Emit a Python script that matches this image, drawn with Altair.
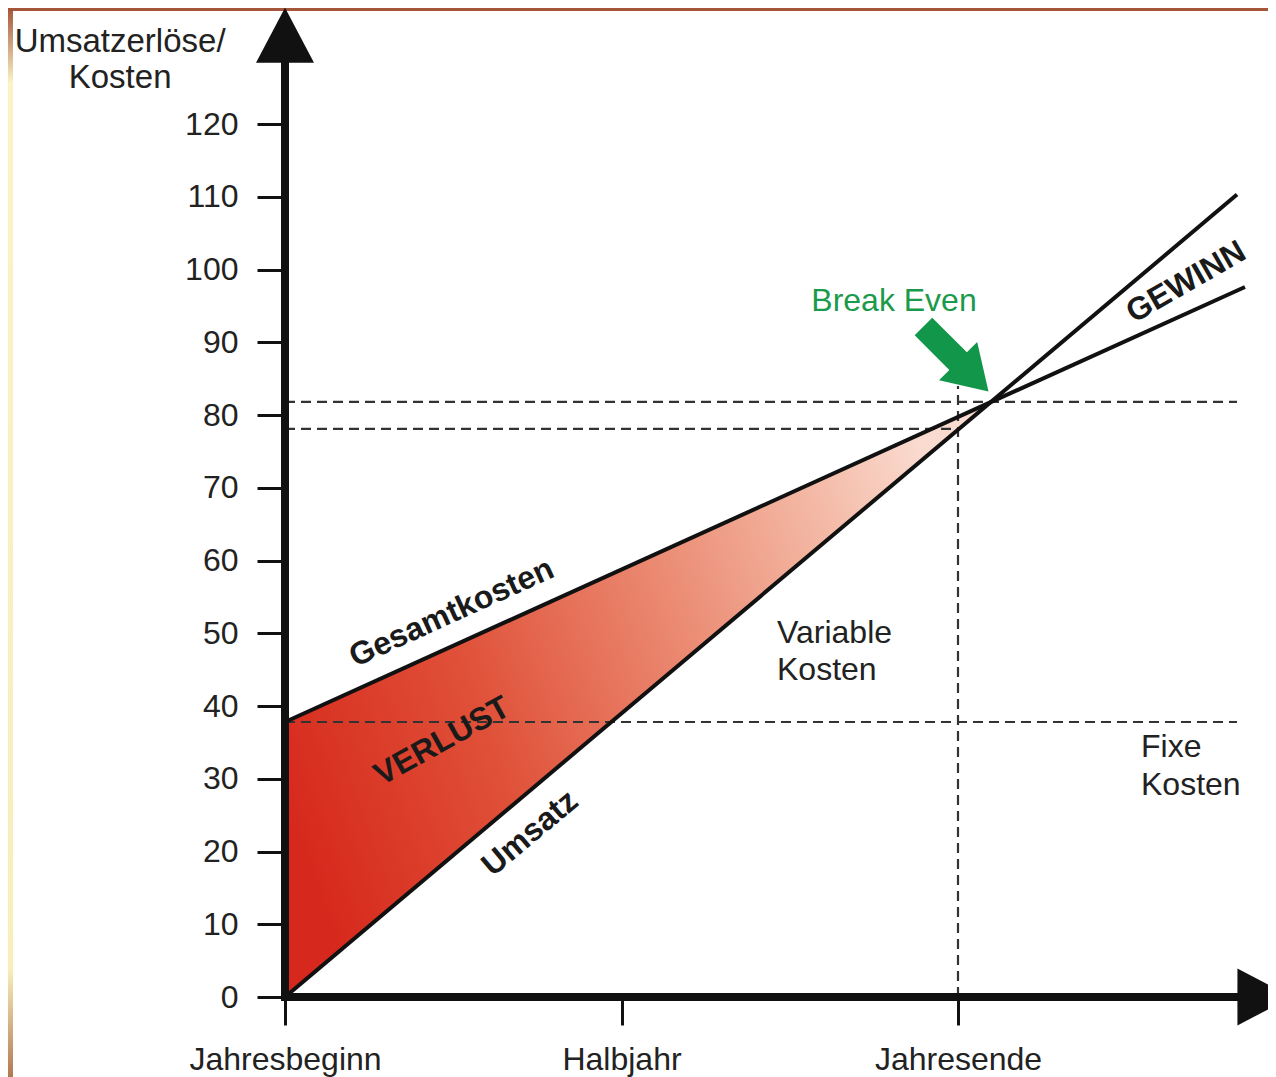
import altair as alt
import pandas as pd

FONT = "Liberation Sans"
INK = "#1a1a1a"

# ---------------- values ----------------
x_tick_values = [0.0, 0.5, 1.0]
x_tick_labels = ["Jahresbeginn", "Halbjahr", "Jahresende"]
y_tick_values = [0, 10, 20, 30, 40, 50, 60, 70, 80, 90, 100, 110, 120]

# Umsatz (revenue) line
umsatz_x = [0.0, 1.4146]
umsatz_y = [0.0, 110.3]
# Gesamtkosten (total cost) line
kosten_x = [0.0, 1.4264]
kosten_y = [37.8, 97.6]

# loss area between the two lines, up to the break-even point
verlust_x = [0.0, 1.0485]
verlust_umsatz = [0.0, 81.75]
verlust_kosten = [37.8, 81.75]

# dashed guide lines
guide_x1 = [0.0, 0.0, 0.0, 1.0]
guide_x2 = [1.4146, 1.0, 1.4146, 1.0]
guide_y1 = [81.8, 78.1, 37.8, 0.0]
guide_y2 = [81.8, 78.1, 37.8, 84.0]

# axis arrows (shafts and heads)
axis_x1 = [0.0, 0.0]
axis_x2 = [0.0, 1.4146]
axis_y1 = [0.0, 0.0]
axis_y2 = [128.5, 0.0]
head_up_x = [0.0]
head_up_y = [132.2]
head_right_x = [1.4554]
head_right_y = [0.0]

# break-even marker
be_arrow_x = [0.997]
be_arrow_y = [87.7]
be_text = ["Break Even"]
be_text_x = [0.9049]
be_text_y = [94.3]

# bold rotated labels
bold_text = ["Gesamtkosten", "VERLUST", "Umsatz", "GEWINN"]
bold_x = [0.2474, 0.2333, 0.3640, 1.3388]
bold_y = [52.85, 35.19, 22.54, 98.28]
bold_angle = [335.6, 331.0, 320.0, 330.0]

# plain labels
title_text = ["Umsatzerlöse/", "Kosten"]
title_x = [-0.2450, -0.2450]
title_y = [129.9, 124.95]
note_text = ["Variable", "Kosten", "Fixe", "Kosten"]
note_x = [0.7311, 0.7311, 1.2719, 1.2719]
note_y = [48.66, 43.57, 32.99, 27.77]

# ---------------- layout ----------------
PX_PER_X = 673.0
PX_PER_Y = 7.275
PLOT_W = 983
PLOT_H = 989
PAD_BOTTOM = 80
X_MAX = PLOT_W / PX_PER_X
Y_MAX = PLOT_H / PX_PER_Y

xscale = alt.Scale(domain=[0, X_MAX], nice=False, zero=False)
yscale = alt.Scale(domain=[0, Y_MAX], nice=False, zero=False)

label_expr = "''"
for v, l in reversed(list(zip(x_tick_values, x_tick_labels))):
    label_expr = f"datum.value == {v} ? '{l}' : ({label_expr})"

xaxis = alt.Axis(
    values=x_tick_values, labelExpr=label_expr, title=None, domain=False, grid=False,
    ticks=True, tickSize=28, tickWidth=3, tickColor="#111111",
    labelFont=FONT, labelFontSize=32, labelColor="#222222", labelPadding=19,
    labelOverlap=False, labelFlush=False, labelAngle=0, labelLimit=0,
)
yaxis = alt.Axis(
    values=y_tick_values, title=None, domain=False, grid=False,
    ticks=True, tickSize=28, tickWidth=3, tickColor="#111111",
    labelFont=FONT, labelFontSize=32, labelColor="#222222", labelPadding=19,
    labelOverlap=False, labelFlush=False, labelLimit=0,
)


def xenc(f):
    return alt.X(f"{f}:Q", scale=xscale, axis=xaxis)


def yenc(f):
    return alt.Y(f"{f}:Q", scale=yscale, axis=yaxis)


one = pd.DataFrame({"a": [0]})

# frame decoration
left_strip = alt.Chart(one).mark_rect(
    fill={"gradient": "linear", "x1": 0, "y1": 0, "x2": 0, "y2": 1,
          "stops": [{"offset": 0, "color": "#a5553a"},
                    {"offset": 0.07, "color": "#fbf3c4"},
                    {"offset": 0.9, "color": "#f8edbb"},
                    {"offset": 1, "color": "#b27852"}]}
).encode(x=alt.value(-277), x2=alt.value(-272), y=alt.value(0), y2=alt.value(PLOT_H + PAD_BOTTOM))
top_strip = alt.Chart(one).mark_rect(fill="#a5553a").encode(
    x=alt.value(-277), x2=alt.value(PLOT_W), y=alt.value(0), y2=alt.value(3)
)

verlust_df = pd.DataFrame({"x": verlust_x, "lo": verlust_umsatz, "hi": verlust_kosten})
area = alt.Chart(verlust_df).mark_area(
    opacity=1,
    fill={"gradient": "linear", "x1": 0, "y1": 0.7, "x2": 1, "y2": 0.4,
          "stops": [{"offset": 0, "color": "#d6281c"},
                    {"offset": 0.3, "color": "#e05038"},
                    {"offset": 0.6, "color": "#eb8a72"},
                    {"offset": 0.85, "color": "#f4bca9"},
                    {"offset": 1, "color": "#fadbd0"}]},
).encode(x=xenc("x"), y=yenc("lo"), y2=alt.Y2("hi"))

guide_df = pd.DataFrame({"x1": guide_x1, "x2": guide_x2, "y1": guide_y1, "y2": guide_y2})
guides = alt.Chart(guide_df).mark_rule(
    color="#333333", strokeWidth=2.2, strokeDash=[10, 6]
).encode(x=xenc("x1"), x2=alt.X2("x2"), y=yenc("y1"), y2=alt.Y2("y2"))

umsatz_df = pd.DataFrame({"x": umsatz_x, "y": umsatz_y})
kosten_df = pd.DataFrame({"x": kosten_x, "y": kosten_y})
umsatz_line = alt.Chart(umsatz_df).mark_line(color="#111111", strokeWidth=4).encode(
    x=xenc("x"), y=yenc("y"), order="x:Q")
kosten_line = alt.Chart(kosten_df).mark_line(color="#111111", strokeWidth=4).encode(
    x=xenc("x"), y=yenc("y"), order="x:Q")

axis_df = pd.DataFrame({"x1": axis_x1, "x2": axis_x2, "y1": axis_y1, "y2": axis_y2})
axis_lines = alt.Chart(axis_df).mark_rule(
    color="#111111", strokeWidth=8, strokeCap="square"
).encode(x=xenc("x1"), x2=alt.X2("x2"), y=yenc("y1"), y2=alt.Y2("y2"))

head_up = alt.Chart(pd.DataFrame({"x": head_up_x, "y": head_up_y})).mark_point(
    shape="M0,-0.95L1,0.95L-1,0.95Z", size=58 * 58, filled=True, opacity=1,
    color="#111111", strokeWidth=0,
).encode(x=xenc("x"), y=yenc("y"))
head_right = alt.Chart(pd.DataFrame({"x": head_right_x, "y": head_right_y})).mark_point(
    shape="M-0.95,-1L0.95,0L-0.95,1Z", size=57 * 57, filled=True, opacity=1,
    color="#111111", strokeWidth=0,
).encode(x=xenc("x"), y=yenc("y"))

be_arrow = alt.Chart(pd.DataFrame({"x": be_arrow_x, "y": be_arrow_y})).mark_point(
    shape="M-1,-0.27L0.065,-0.27L0.065,-0.587L1,0L0.065,0.587L0.065,0.27L-1,0.27Z",
    size=92 * 92, angle=45, filled=True, opacity=1, color="#12964a", strokeWidth=0,
).encode(x=xenc("x"), y=yenc("y"))
be_label = alt.Chart(pd.DataFrame({"t": be_text, "x": be_text_x, "y": be_text_y})).mark_text(
    font=FONT, fontSize=32, color="#1b9a4c", align="center", baseline="alphabetic"
).encode(x=xenc("x"), y=yenc("y"), text="t:N")

bold_df = pd.DataFrame({"t": bold_text, "x": bold_x, "y": bold_y, "a": bold_angle})
bold_labels = alt.Chart(bold_df).mark_text(
    font=FONT, fontSize=32, fontWeight="bold", color=INK, align="center", baseline="middle"
).encode(x=xenc("x"), y=yenc("y"), text="t:N", angle=alt.Angle("a:Q", scale=None))

title_labels = alt.Chart(pd.DataFrame({"t": title_text, "x": title_x, "y": title_y})).mark_text(
    font=FONT, fontSize=33, color="#222222", align="center", baseline="alphabetic"
).encode(x=xenc("x"), y=yenc("y"), text="t:N")

note_labels = alt.Chart(pd.DataFrame({"t": note_text, "x": note_x, "y": note_y})).mark_text(
    font=FONT, fontSize=32, color="#222222", align="left", baseline="alphabetic"
).encode(x=xenc("x"), y=yenc("y"), text="t:N")

chart = alt.layer(
    left_strip, top_strip, area, guides, umsatz_line, kosten_line, axis_lines,
    head_up, head_right, be_arrow, be_label, bold_labels, title_labels, note_labels,
).properties(
    width=PLOT_W, height=PLOT_H,
    autosize=alt.AutoSizeParams(type="none"),
    padding={"left": 277, "top": 0, "right": 0, "bottom": PAD_BOTTOM},
    background="white",
).configure_view(stroke=None)

chart.save("out.html", embed_options={"renderer": "svg", "actions": False})
